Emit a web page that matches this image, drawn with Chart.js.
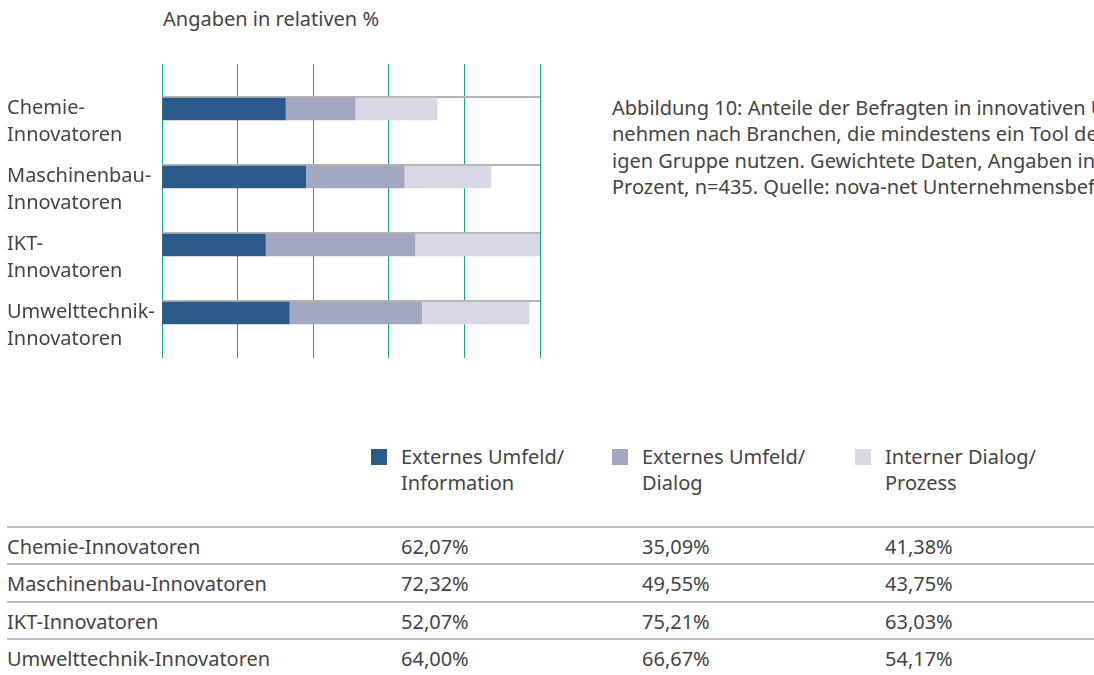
<!DOCTYPE html>
<html>
<head>
<meta charset="utf-8">
<script src="https://cdn.jsdelivr.net/npm/chart.js@4.4.0/dist/chart.umd.min.js"></script>
<style>
  body { margin: 0; width: 1094px; height: 675px; overflow: hidden; background: #fff;
         font-family: 'Noto Sans', sans-serif; color: #444; position: relative; }
  .abs { position: absolute; white-space: nowrap; font-size: 20px; line-height: 26px; }
  #chartBox { position: absolute; left: 0; top: 0; width: 560px; height: 380px; }
  .rule { position: absolute; left: 7px; right: 0; height: 0; border-top: 2px solid #bdbdbd; }
  .swatch { position: absolute; width: 16px; height: 16px; }
</style>
</head>
<body>
<div class="abs" style="left:163px; top:6px;">Angaben in relativen %</div>
<div class="abs" style="left:612px; top:95px; line-height:26.3px;">
  Abbildung 10: Anteile der Befragten in innovativen Unter-<br>
  nehmen nach Branchen, die mindestens ein Tool der jeweil-<br>
  igen Gruppe nutzen. Gewichtete Daten, Angaben in<br>
  Prozent, n=435. Quelle: nova-net Unternehmensbefragung
</div>
<div id="chartBox"><canvas id="barChart"></canvas></div>
<div id="table"></div>

<script>
const categories = [
    ['Chemie-', 'Innovatoren'],
    ['Maschinenbau-', 'Innovatoren'],
    ['IKT-', 'Innovatoren'],
    ['Umwelttechnik-', 'Innovatoren']
];
const rowNames = ['Chemie-Innovatoren', 'Maschinenbau-Innovatoren', 'IKT-Innovatoren', 'Umwelttechnik-Innovatoren'];
const seriesNames = [['Externes Umfeld/', 'Information'], ['Externes Umfeld/', 'Dialog'], ['Interner Dialog/', 'Prozess']];
const externInfo = [62.07, 72.32, 52.07, 64.00];
const externDialog = [35.09, 49.55, 75.21, 66.67];
const internProzess = [41.38, 43.75, 63.03, 54.17];
const colors = ['#2d5b89', '#a3a8c1', '#d9d9e6'];

const series = [externInfo, externDialog, internProzess];
const totals = categories.map((c, i) => externInfo[i] + externDialog[i] + internProzess[i]);
const xMax = Math.max(...totals);

function fiveSteps(scale)
{
    scale.ticks = [0, 1, 2, 3, 4, 5].map(i => ({ value: xMax * i / 5 }));
}

// grey rule along the top edge of each bar row
const rowLines = {
    id: 'rowLines',
    beforeDatasetsDraw(chart) {
        const ctx = chart.ctx;
        const area = chart.chartArea;
        ctx.save();
        ctx.strokeStyle = '#b4b4b4';
        ctx.lineWidth = 2;
        chart.getDatasetMeta(0).data.forEach(bar => {
            const top = bar.y - bar.height / 2 - 1;
            ctx.beginPath();
            ctx.moveTo(area.left, top);
            ctx.lineTo(area.right, top);
            ctx.stroke();
        });
        ctx.restore();
    }
};

Chart.defaults.font.family = "'Noto Sans', sans-serif";
Chart.defaults.color = '#444';

new Chart(document.getElementById('barChart'), {
    type: 'bar',
    data: {
        labels: categories,
        datasets: series.map((d, i) => ({
            label: seriesNames[i].join(' '),
            data: d,
            backgroundColor: colors[i],
            borderWidth: 0,
            barThickness: 22
        }))
    },
    options: {
        indexAxis: 'y',
        responsive: true,
        maintainAspectRatio: false,
        animation: false,
        layout: { padding: { left: 7, right: 20, top: 64, bottom: 22 } },
        plugins: { legend: { display: false }, tooltip: { enabled: false } },
        scales: {
            x: {
                stacked: true,
                min: 0,
                max: xMax,
                z: 1,
                afterBuildTicks: fiveSteps,
                grid: { color: '#14a888', tickLength: 11 },
                border: { display: false },
                ticks: { display: false }
            },
            x2: {
                type: 'linear',
                position: 'top',
                min: 0,
                max: xMax,
                afterBuildTicks: fiveSteps,
                grid: { color: '#14a888', tickLength: 11, drawOnChartArea: false },
                border: { display: false },
                ticks: { display: false }
            },
            y: {
                stacked: true,
                afterFit(scale) { scale.width = 155; },
                grid: { display: false },
                border: { display: false },
                ticks: {
                    crossAlign: 'far',
                    labelOffset: 13,
                    font: { size: 20, lineHeight: '27px' },
                    color: '#444'
                }
            }
        }
    },
    plugins: [rowLines]
});

// legend and value table below the chart
const table = document.getElementById('table');
const colX = [401, 642, 885];
let html = '';
seriesNames.forEach((name, i) => {
    html += '<div class="swatch" style="left:' + (colX[i] - 30) + 'px; top:449px; background:' + colors[i] + '"></div>';
    html += '<div class="abs" style="left:' + colX[i] + 'px; top:444px;">' + name.join('<br>') + '</div>';
});
rowNames.forEach((name, r) => {
    const top = 526 + r * 37.4;
    html += '<div class="rule" style="top:' + top + 'px"></div>';
    html += '<div class="abs" style="left:7px; top:' + (top + 8) + 'px;">' + name + '</div>';
    series.forEach((d, i) => {
        html += '<div class="abs" style="left:' + colX[i] + 'px; top:' + (top + 8) + 'px;">' + d[r].toFixed(2).replace('.', ',') + '%</div>';
    });
});
table.innerHTML = html;
</script>
</body>
</html>
